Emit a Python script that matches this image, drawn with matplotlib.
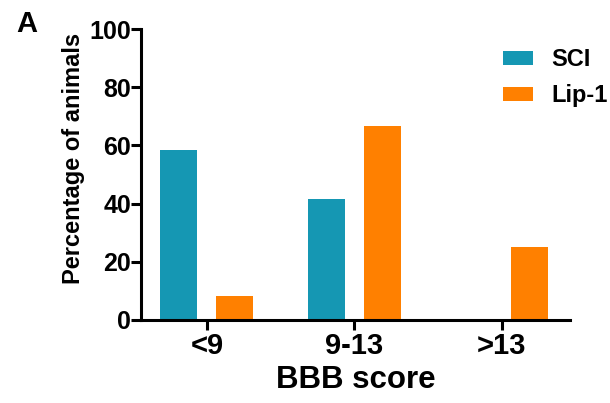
import numpy as np
import matplotlib
matplotlib.use("Agg")
import matplotlib.pyplot as plt

plt.rcParams['font.family'] = ['Liberation Sans', 'DejaVu Sans']
plt.rcParams['font.weight'] = 'bold'

categories = ['<9', '9-13', '>13']
sci_values = [58.3, 41.7, 0]
lip1_values = [8.3, 66.7, 25]
series_names = ['SCI', 'Lip-1']
y_ticks = [0, 20, 40, 60, 80, 100]

teal = '#1597b3'
orange = '#ff8000'

fig = plt.figure(figsize=(6.1, 4.03), dpi=100)
ax = fig.add_axes([0.231, 0.206, 0.703, 0.722])

x = np.arange(len(categories))
w = 0.25
ax.bar(x - 0.19, sci_values, width=w, color=teal, label=series_names[0])
ax.bar(x + 0.19, lip1_values, width=w, color=orange, label=series_names[1])

ax.set_xlim(-0.447, 2.46)
ax.set_ylim(0, 100)
ax.set_yticks(y_ticks)
ax.set_xticks(x)
ax.set_xticklabels(categories)

for s in ['top', 'right']:
    ax.spines[s].set_visible(False)
for s in ['left', 'bottom']:
    ax.spines[s].set_linewidth(2.2)

ax.tick_params(axis='both', width=2.2, length=7)
ax.tick_params(axis='y', labelsize=18, pad=0)
ax.tick_params(axis='x', labelsize=21, pad=2)
for lab in ax.get_xticklabels() + ax.get_yticklabels():
    lab.set_fontweight('bold')

ax.set_ylabel('Percentage of animals', fontsize=17, fontweight='bold')
ax.yaxis.set_label_coords(-0.13, 0.555)
ax.set_xlabel('BBB score', fontsize=22.5, fontweight='bold', labelpad=3)

leg = ax.legend(loc='upper left', bbox_to_anchor=(503 / 610, 1 - 48 / 403),
                bbox_transform=fig.transFigure, frameon=False,
                borderpad=0, borderaxespad=0,
                prop={'size': 17, 'weight': 'bold'}, handlelength=1.25,
                handleheight=0.55, labelspacing=0.55, handletextpad=0.8)

fig.text(0.026, 0.921, 'A', fontsize=21, fontweight='bold')

fig.savefig('out.png', dpi=100)
